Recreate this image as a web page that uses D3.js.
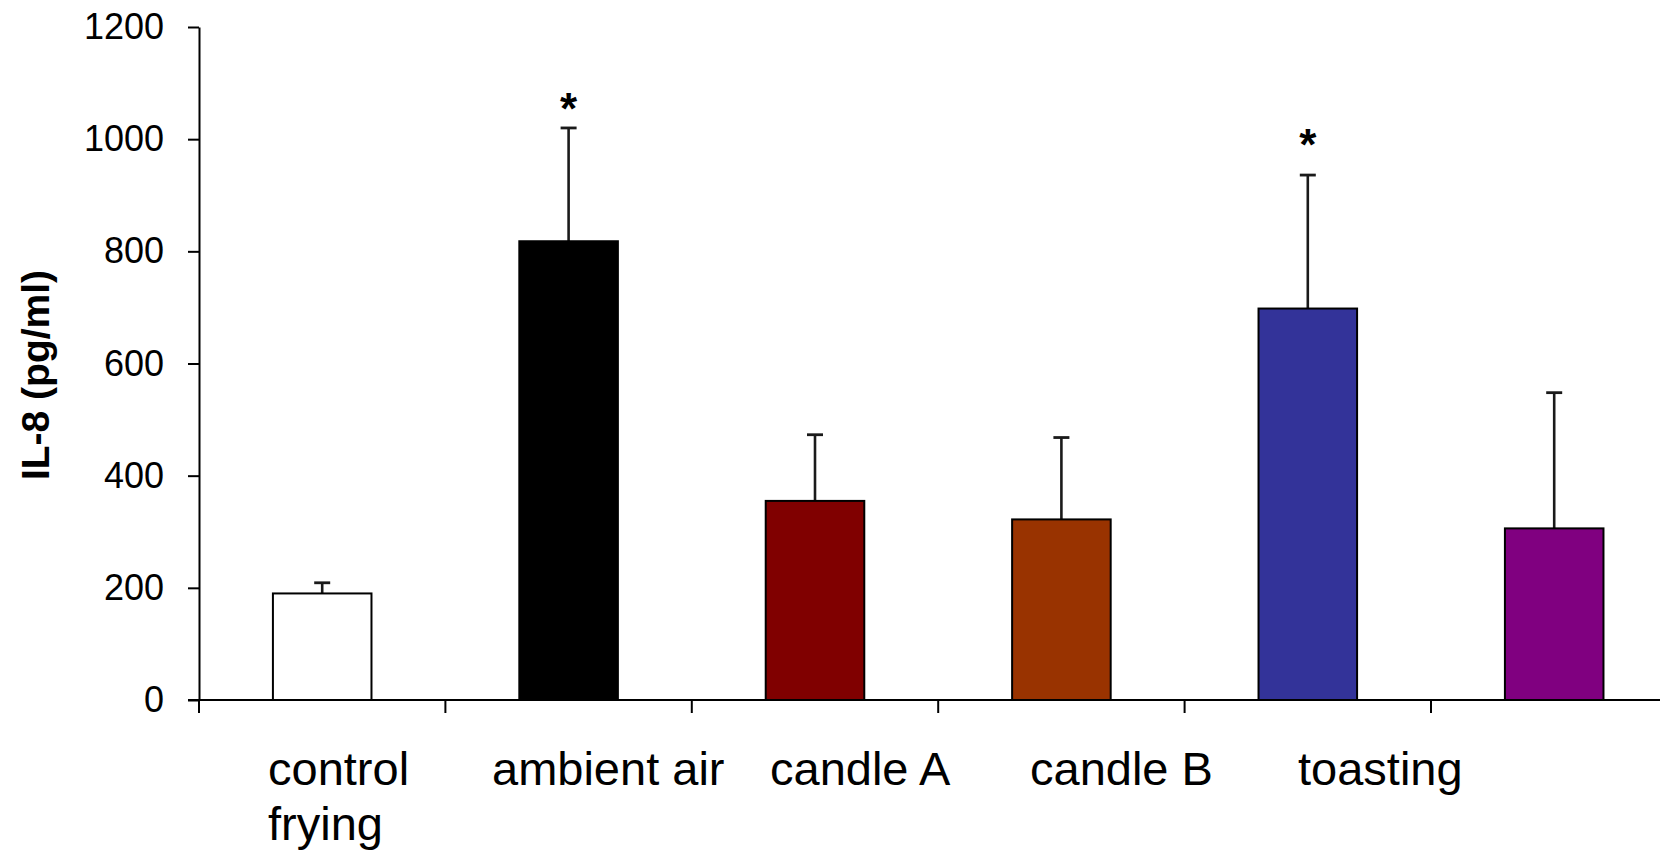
<!DOCTYPE html>
<html>
<head>
<meta charset="utf-8">
<script src="https://cdn.jsdelivr.net/npm/d3@7"></script>
<style>
  html, body { margin: 0; padding: 0; background: #fff; }
  svg { display: block; font-family: "Liberation Sans", Arial, sans-serif; }
</style>
</head>
<body>
<svg id="chart" width="1660" height="851"></svg>
<script>
// ---- data ----
const categories = ["control", "ambient air", "candle A", "candle B", "toasting", "frying"];
const means      = [190, 818, 355, 322, 698, 306];
const errorsUp   = [19, 202, 118, 146, 238, 242];
const significant = [false, true, false, false, true, false];
const starValues = [null, 1073, null, null, 1009, null];
const barColors  = ["#ffffff", "#000000", "#800000", "#993300", "#333399", "#800080"];
const yTicks     = [0, 200, 400, 600, 800, 1000, 1200];
const yLabel     = "IL-8 (pg/ml)";

// ---- layout ----
const svg = d3.select("#chart");
const x0 = 199, y0 = 700, yTop = 27, step = 246.4;

const y = d3.scaleLinear().domain([0, 1200]).range([y0, yTop]);
const x = d3.scaleBand().domain(categories)
  .range([x0, x0 + step * categories.length])
  .paddingInner(0.6).paddingOuter(0.3);

// y axis
const yAxis = d3.axisLeft(y).tickValues(yTicks).tickFormat(d3.format("d"))
  .tickSize(11).tickSizeOuter(0).tickPadding(24);
const gy = svg.append("g").attr("transform", `translate(${x0},0)`).call(yAxis);
gy.select(".domain").attr("stroke", "#000").attr("stroke-width", 2);
gy.selectAll(".tick line").attr("stroke", "#000").attr("stroke-width", 2);
gy.selectAll(".tick text").attr("font-size", 36).attr("fill", "#000")
  .attr("font-family", "Liberation Sans, Arial, sans-serif");

// x axis line (baseline) and category boundary ticks
svg.append("line").attr("x1", x0 - 11).attr("x2", 1660).attr("y1", y0).attr("y2", y0)
  .attr("stroke", "#000").attr("stroke-width", 2);
const boundaries = d3.range(categories.length + 1).map(i => x0 + step * i);
svg.append("g").selectAll("line").data(boundaries).join("line")
  .attr("x1", d => d).attr("x2", d => d).attr("y1", y0).attr("y2", y0 + 13)
  .attr("stroke", "#000").attr("stroke-width", 2);

// bars
const data = categories.map((c, i) => ({ c, v: means[i], e: errorsUp[i], col: barColors[i], sig: significant[i], star: starValues[i] }));

// error bars (upper only)
const eg = svg.append("g");
eg.selectAll("line.stem").data(data).join("line").attr("class", "stem")
  .attr("x1", d => x(d.c) + x.bandwidth() / 2).attr("x2", d => x(d.c) + x.bandwidth() / 2)
  .attr("y1", d => y(d.v)).attr("y2", d => y(d.v + d.e))
  .attr("stroke", "#1a1a1a").attr("stroke-width", 2.6);
eg.selectAll("line.cap").data(data).join("line").attr("class", "cap")
  .attr("x1", d => x(d.c) + x.bandwidth() / 2 - 8).attr("x2", d => x(d.c) + x.bandwidth() / 2 + 8)
  .attr("y1", d => y(d.v + d.e)).attr("y2", d => y(d.v + d.e))
  .attr("stroke", "#1a1a1a").attr("stroke-width", 2.8);

svg.append("g").selectAll("rect").data(data).join("rect")
  .attr("x", d => x(d.c)).attr("width", x.bandwidth())
  .attr("y", d => y(d.v)).attr("height", d => y(0) - y(d.v))
  .attr("fill", d => d.col).attr("stroke", "#000").attr("stroke-width", 2);

// significance stars
svg.append("g").selectAll("text").data(data.filter(d => d.sig)).join("text")
  .attr("x", d => x(d.c) + x.bandwidth() / 2)
  .attr("y", d => y(d.star) + 26)
  .attr("text-anchor", "middle").attr("font-size", 44).attr("font-weight", "bold")
  .text("*");

// category labels (written as one wrapped text run in the original)
const labelStarts = [268, 492, 770, 1030, 1298, 268];
const labelLines  = [0, 0, 0, 0, 0, 1];
svg.append("g").selectAll("text").data(categories).join("text")
  .attr("x", (d, i) => labelStarts[i])
  .attr("y", (d, i) => 785 + labelLines[i] * 55)
  .attr("font-size", 47).attr("fill", "#000")
  .text(d => d);

// y label
svg.append("text")
  .attr("transform", "translate(49,375) rotate(-90)")
  .attr("text-anchor", "middle").attr("font-size", 39).attr("font-weight", "bold")
  .text(yLabel);
</script>
</body>
</html>
